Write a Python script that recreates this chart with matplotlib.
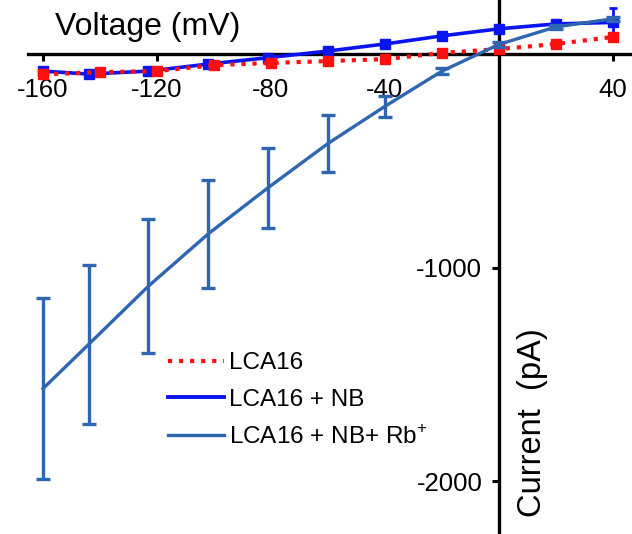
import matplotlib
matplotlib.use("Agg")
import matplotlib.pyplot as plt
from matplotlib.lines import Line2D

plt.rcParams["font.family"] = ["Liberation Sans", "DejaVu Sans"]
plt.rcParams["mathtext.fontset"] = "custom"
plt.rcParams["mathtext.rm"] = "Liberation Sans"

# voltages (mV)
v_lca = [-160, -140, -120, -100, -80, -60, -40, -20, 0, 20, 40]
v_nb = [-160, -144, -123, -102, -81, -60, -40, -20, 0, 20, 40]

# currents (pA)
i_lca = [-95, -85, -80, -52, -42, -33, -24, 5, 23, 47, 80]
e_lca = [10, 10, 10, 8, 8, 8, 8, 8, 8, 10, 14]

i_nb = [-80, -94, -80, -47, -17, 14, 47, 85, 118, 141, 148]
e_nb = [12, 12, 12, 10, 10, 10, 10, 10, 14, 18, 66]

i_rb = [-1567, -1360, -1087, -842, -626, -419, -245, -80, 45, 127, 165]
e_rb = [423, 374, 313, 254, 188, 134, 50, 15, 10, 10, 10]

labels = ["LCA16", "LCA16 + NB", "LCA16 + NB+ Rb$^{+}$"]
colors = ["#ff1010", "#0a14f0", "#2f66b2"]
x_ticks = [-160, -120, -80, -40, 40]
y_ticks = [-1000, -2000]

fig = plt.figure(figsize=(6.32, 5.34), dpi=100)
ax = fig.add_axes([0, 0, 1, 1])
ax.set_xlim(-175.1, 46.7)
ax.set_ylim(-2248, 253)

ax.errorbar(v_lca, i_lca, yerr=e_lca, color=colors[0], ls=":", lw=3,
            marker="s", ms=6.5, capsize=3, elinewidth=2, capthick=2, zorder=3)
ax.errorbar(v_nb, i_nb, yerr=e_nb, color=colors[1], ls="-", lw=2.6,
            marker="s", ms=6.5, capsize=3, elinewidth=2, capthick=2, zorder=2)
ax.errorbar(v_nb, i_rb, yerr=e_rb, color=colors[2], ls="-", lw=2.4,
            capsize=5, elinewidth=2.4, capthick=2.4, zorder=4)

for side in ["top", "right"]:
    ax.spines[side].set_visible(False)
ax.spines["left"].set_position(("data", 0))
ax.spines["bottom"].set_position(("data", 0))
ax.spines["bottom"].set_bounds(-165.3, 46.7)
for side in ["left", "bottom"]:
    ax.spines[side].set_linewidth(2.4)
    ax.spines[side].set_zorder(1)

ax.set_xticks(x_ticks)
ax.set_xticklabels([str(t) for t in x_ticks])
ax.set_yticks(y_ticks)
ax.set_yticklabels([str(t) for t in y_ticks])
ax.tick_params(axis="x", direction="out", length=5, width=2.2, pad=12, labelsize=18.5)
ax.tick_params(axis="y", direction="out", length=5, width=2.2, pad=7, labelsize=18.5)

fig.text(148 / 632, 1 - 27 / 534, "Voltage (mV)", fontsize=23, ha="center", va="center")
fig.text(533 / 632, 1 - 423 / 534, "Current  (pA)", fontsize=23.5, ha="center",
         va="center", rotation=90)

handles = [
    Line2D([], [], color=colors[0], ls=":", lw=3),
    Line2D([], [], color=colors[1], ls="-", lw=2.8),
    Line2D([], [], color=colors[2], ls="-", lw=2.4),
]
ax.legend(handles, labels, loc="upper left", bbox_to_anchor=(168 / 632, 1 - 352 / 534),
          bbox_transform=fig.transFigure, frameon=False, fontsize=17.5,
          borderpad=0, borderaxespad=0, handlelength=2.3, handletextpad=0.2,
          labelspacing=0.6)

fig.savefig("out.png", dpi=100)
